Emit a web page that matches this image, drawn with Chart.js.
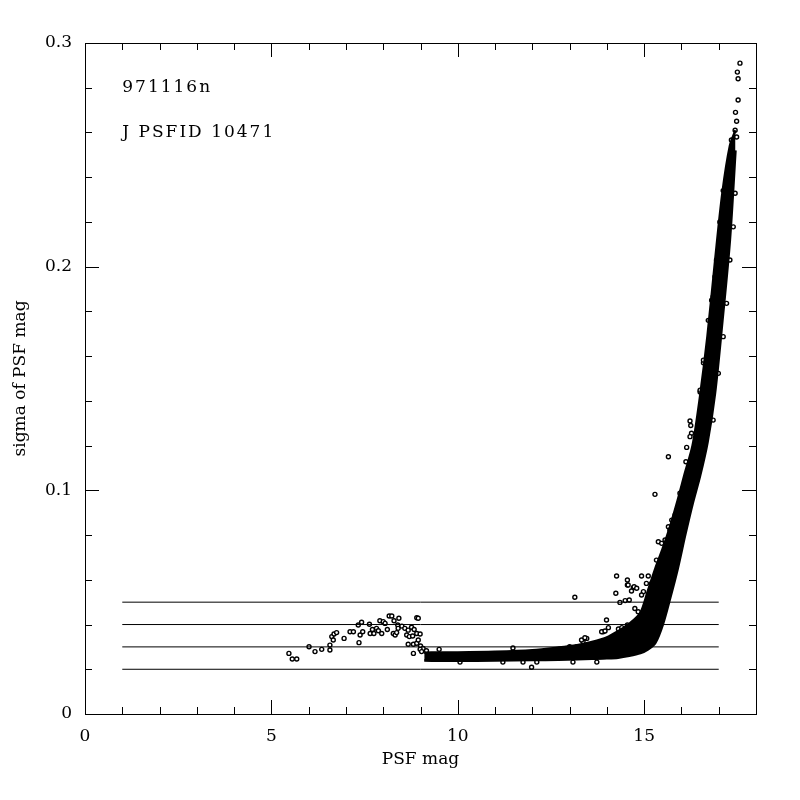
<!DOCTYPE html>
<html>
<head>
<meta charset="utf-8">
<script src="https://cdn.jsdelivr.net/npm/chart.js@4"></script>
<style>
	body { margin: 0; background: #fff; }
	#wrap { width: 800px; height: 800px; }
</style>
</head>
<body>
<div id="wrap"><canvas id="sigmaChart" width="800" height="800"></canvas></div>
<script>
// sigma of PSF mag vs PSF mag, J band, night 971116n

const xTickLabels = [0, 5, 10, 15];
const xMinorTicks = [1, 2, 3, 4, 6, 7, 8, 9, 11, 12, 13, 14, 16, 17];
const yTickLabels = [0, 0.1, 0.2, 0.3];
const yMinorTicks = [0.02, 0.04, 0.06, 0.08, 0.12, 0.14, 0.16, 0.18, 0.22, 0.24, 0.26, 0.28];

// reference levels drawn from mag 1 to 17
const refLevels = [0.02, 0.03, 0.04, 0.05];
const refRange = [1, 17];

// dense stellar locus: upper and lower edge of the solid band
const bandMag = [9.1, 9.5, 10, 11, 12, 12.7, 13.2, 13.6, 14.0, 14.3, 14.6, 14.9, 15.1, 15.3, 15.5, 15.7, 15.9, 16.1, 16.3, 16.5, 16.7, 16.9, 17.1, 17.3, 17.45];
const bandUpper = [0.0274, 0.0275, 0.0275, 0.0278, 0.0285, 0.0297, 0.0308, 0.0322, 0.0342, 0.037, 0.0403, 0.0452, 0.055, 0.065, 0.074, 0.084, 0.0955, 0.108, 0.12, 0.142, 0.169, 0.202, 0.233, 0.254, 0.261];
const bandLower = [0.0239, 0.0238, 0.0238, 0.0239, 0.0241, 0.0243, 0.0245, 0.0247, 0.0249, 0.0252, 0.026, 0.0272, 0.0288, 0.0318, 0.04, 0.052, 0.065, 0.08, 0.094, 0.1065, 0.1215, 0.1434, 0.176, 0.212, 0.252];

// individual stars off the band and on its ragged edges
const starMag = [
	5.47, 5.56, 5.68, 6.01, 6.17, 6.35, 6.57, 6.57, 6.62, 6.66, 6.68, 6.75, 6.95, 7.11, 7.20, 7.35,
	7.38, 7.45, 7.33, 7.42, 7.63, 7.65, 7.75, 7.71, 7.82, 7.87, 7.91, 8.00, 8.05, 7.96, 8.11, 8.16,
	8.23, 8.27, 8.32, 8.36, 8.29, 8.42, 8.39, 8.40, 8.50, 8.58, 8.67, 8.76, 8.83, 8.90, 8.94, 8.63,
	8.70, 8.79, 8.90, 8.99, 8.67, 8.81, 8.90, 8.81, 8.94, 9.00, 9.07, 9.16, 8.99, 9.03, 9.50,
	10.06, 11.21, 11.75, 12.12, 13.09, 13.73, 11.98, 11.48, 13.36, 13.46, 13.90,
	13.14, 13.00, 13.19, 13.32, 13.41, 13.86, 13.95, 14.04, 13.99, 14.31, 14.40, 14.55, 14.24, 14.26,
	14.55, 14.55, 14.57, 14.71, 14.66, 14.73, 14.80, 14.35, 14.49, 14.60, 14.75, 14.84, 14.93, 15.11,
	15.06, 15.20, 15.16, 14.98, 14.93, 15.29, 15.65, 16.14, 16.12, 15.38, 15.47, 15.56, 15.33, 15.38,
	15.74, 15.83, 15.65, 15.69, 15.96, 16.23, 16.25, 16.50, 16.59, 16.72, 16.81, 16.97, 17.03, 17.12,
	17.34, 17.39, 17.44, 17.48, 17.48, 17.45, 17.52, 17.52, 17.50, 17.57,
	17.30, 17.17, 17.03, 16.94, 16.90, 16.85, 16.77, 16.59, 16.50, 16.27, 16.23,
	17.44, 17.39, 17.30, 17.21, 17.12, 16.99, 16.85
];
const starSigma = [
	0.0271, 0.0246, 0.0246, 0.0301, 0.0279, 0.0289, 0.0286, 0.0308, 0.0346, 0.0331, 0.0358, 0.0364, 0.0338, 0.0368, 0.0368, 0.0319,
	0.0353, 0.0368, 0.0398, 0.041, 0.0401, 0.036, 0.036, 0.0378, 0.0383, 0.0372, 0.0417, 0.0413, 0.0405, 0.036, 0.0378, 0.0438,
	0.0438, 0.036, 0.0353, 0.0364, 0.0417, 0.0428, 0.0398, 0.0383, 0.0393, 0.0383, 0.0375, 0.0388, 0.0378, 0.043, 0.0428, 0.0353,
	0.0346, 0.0349, 0.036, 0.0358, 0.0312, 0.0312, 0.0316, 0.0271, 0.0331, 0.0304, 0.0293, 0.0283, 0.0289, 0.0279, 0.0289,
	0.0232, 0.0232, 0.0232, 0.0232, 0.0232, 0.0232, 0.0209, 0.0295, 0.0323, 0.0338, 0.0368,
	0.0522, 0.0301, 0.0301, 0.0331, 0.0341, 0.0368, 0.0371, 0.0386, 0.042, 0.038, 0.0386, 0.0398, 0.054, 0.0617,
	0.0599, 0.0577, 0.0577, 0.0565, 0.055, 0.0569, 0.0562, 0.0499, 0.0507, 0.051, 0.0472, 0.0457, 0.0617, 0.0617,
	0.0584, 0.0584, 0.0554, 0.0547, 0.0532, 0.0982, 0.115, 0.1192, 0.1128, 0.077, 0.0763, 0.0778, 0.0688, 0.0658,
	0.0867, 0.089, 0.0837, 0.0823, 0.0987, 0.131, 0.129, 0.144, 0.157, 0.176, 0.185, 0.202, 0.22, 0.234,
	0.2566, 0.2508, 0.261, 0.258, 0.265, 0.269, 0.2745, 0.284, 0.287, 0.291,
	0.2387, 0.2193, 0.2119, 0.203, 0.1955, 0.1866, 0.1761, 0.1582, 0.1448, 0.1255, 0.124,
	0.2328, 0.2178, 0.203, 0.1836, 0.1687, 0.1523, 0.1314
];

const labelLines = ["971116n", "J PSFID 10471"];
const labelPos = [[1.0, 0.28], [1.0, 0.26]];

const FONT = "'DejaVu Serif', serif";

const zip = (xs, ys) => xs.map((x, i) => ({ x: x, y: ys[i] }));

// frame, inward ticks on all four sides, and the corner labels
const framePlugin = {
	id: "frame",
	afterDatasetsDraw(chart) {
		const { ctx, chartArea: a, scales } = chart;
		const xs = scales.x;
		const ys = scales.y;
		ctx.save();
		ctx.strokeStyle = "#000";
		ctx.lineWidth = 1;
		ctx.strokeRect(a.left + 0.5, a.top + 0.5, a.right - a.left, a.bottom - a.top);

		ctx.beginPath();
		const xTick = (v, len) => {
			const px = Math.round(xs.getPixelForValue(v)) + 0.5;
			ctx.moveTo(px, a.bottom);
			ctx.lineTo(px, a.bottom - len);
			ctx.moveTo(px, a.top);
			ctx.lineTo(px, a.top + len);
		};
		const yTick = (v, len) => {
			const py = Math.round(ys.getPixelForValue(v)) + 0.5;
			ctx.moveTo(a.left, py);
			ctx.lineTo(a.left + len, py);
			ctx.moveTo(a.right, py);
			ctx.lineTo(a.right - len, py);
		};
		xTickLabels.forEach((v) => xTick(v, 14));
		xMinorTicks.forEach((v) => xTick(v, 7));
		yTickLabels.forEach((v) => yTick(v, 14));
		yMinorTicks.forEach((v) => yTick(v, 7));
		ctx.stroke();

		ctx.fillStyle = "#000";
		ctx.font = "17px " + FONT;
		ctx.textAlign = "left";
		ctx.textBaseline = "middle";
		ctx.letterSpacing = "2px";
		labelLines.forEach((t, i) => {
			ctx.fillText(t, xs.getPixelForValue(labelPos[i][0]), ys.getPixelForValue(labelPos[i][1]));
		});
		ctx.restore();
	},
};

const datasets = [
	{
		type: "line",
		data: zip(bandMag, bandUpper),
		borderColor: "#000",
		backgroundColor: "#000",
		borderWidth: 2.5,
		pointRadius: 0,
		tension: 0.3,
		fill: "+1",
	},
	{
		type: "line",
		data: zip(bandMag, bandLower),
		borderColor: "#000",
		backgroundColor: "#000",
		borderWidth: 2.5,
		pointRadius: 0,
		tension: 0.3,
		fill: false,
	},
];

refLevels.forEach((lvl) => {
	datasets.push({
		type: "line",
		data: refRange.map((m) => ({ x: m, y: lvl })),
		borderColor: "#000",
		borderWidth: 1,
		pointRadius: 0,
		fill: false,
	});
});

datasets.push({
	type: "scatter",
	data: zip(starMag, starSigma),
	pointStyle: "circle",
	pointRadius: 2,
	borderWidth: 1.4,
	borderColor: "#000",
	backgroundColor: "#fff",
});

const ctx = document.getElementById("sigmaChart").getContext("2d");
new Chart(ctx, {
	type: "scatter",
	data: { datasets: datasets },
	options: {
		responsive: false,
		animation: false,
		devicePixelRatio: 1,
		layout: { padding: { left: 0, top: 43, right: 44, bottom: 0 } },
		plugins: {
			legend: { display: false },
			tooltip: { enabled: false },
		},
		scales: {
			x: {
				type: "linear",
				min: 0,
				max: 18,
				afterBuildTicks: (scale) => {
					scale.ticks = xTickLabels.map((v) => ({ value: v }));
				},
				afterFit: (scale) => {
					scale.height = 86;
				},
				grid: { display: false, drawTicks: false },
				border: { display: false },
				ticks: {
					color: "#000",
					font: { family: FONT, size: 17 },
					padding: 12,
					maxRotation: 0,
					callback: (v) => String(v),
				},
				title: {
					display: true,
					text: "PSF mag",
					color: "#000",
					font: { family: FONT, size: 17 },
					padding: { top: 0, bottom: 30 },
				},
			},
			y: {
				type: "linear",
				min: 0,
				max: 0.3,
				afterBuildTicks: (scale) => {
					scale.ticks = yTickLabels.map((v) => ({ value: v }));
				},
				afterFit: (scale) => {
					scale.width = 85;
				},
				grid: { display: false, drawTicks: false },
				border: { display: false },
				ticks: {
					color: "#000",
					font: { family: FONT, size: 17 },
					padding: 13,
					callback: (v) => (v === 0 ? "0" : v.toFixed(1)),
				},
				title: {
					display: true,
					text: "sigma of PSF mag",
					color: "#000",
					font: { family: FONT, size: 17 },
					padding: { top: 10, bottom: 0 },
				},
			},
		},
	},
	plugins: [framePlugin],
});
</script>
</body>
</html>
